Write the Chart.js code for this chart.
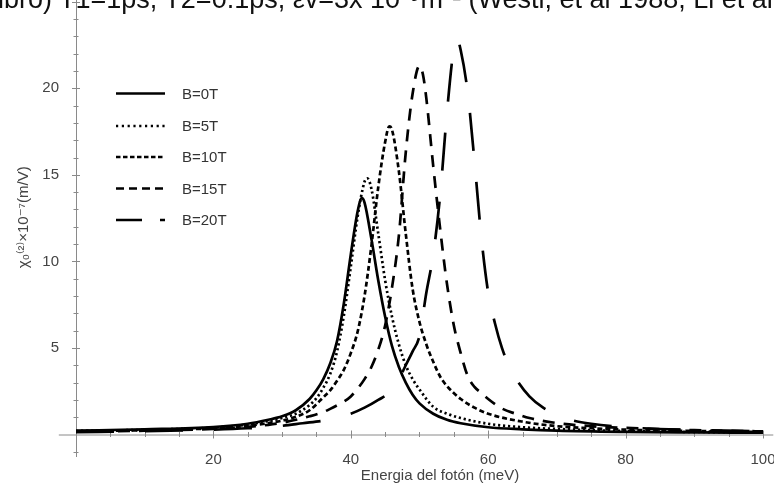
<!DOCTYPE html>
<html>
<head>
<meta charset="utf-8">
<script src="https://cdn.jsdelivr.net/npm/chart.js@4/dist/chart.umd.min.js"></script>
<style>
html,body{margin:0;padding:0;background:#fff;overflow:hidden;width:774px;height:485px;}
#wrap{position:relative;width:800px;height:485px;}
canvas{position:absolute;left:0;top:0;}
#cap{position:absolute;left:-2px;top:-13px;font:27px "Liberation Sans",Arial,sans-serif;color:#111;white-space:nowrap;line-height:24px;}
</style>
</head>
<body>
<div id="wrap">
<canvas id="c" width="800" height="485"></canvas>
<div id="cap">ibro) T1=1ps, T2=0.1ps, εv=3x 10⁻⁹m⁻¹ (Westl, et al 1988, Li et al</div>
</div>
<script>
// ---- data ----
const seriesLabels = ['B=0T', 'B=5T', 'B=10T', 'B=15T', 'B=20T'];
const xTickLabels = [20, 40, 60, 80, 100];
const yTickLabels = [5, 10, 15, 20];

const eB0  = [0,10,20,25,28,30,32,34,35,36,37,38,39,40,41,41.6,42,43,44,45,46,47,48,49,50,52,54,56,60,65,70,80,90,100];
const chiB0 = [0.22,0.3,0.43,0.62,0.85,1.05,1.4,2.05,2.55,3.2,4.1,5.4,7.6,10.4,12.9,13.65,13.4,11.3,8.9,6.8,5.1,3.9,3.0,2.3,1.8,1.2,0.85,0.65,0.42,0.3,0.22,0.15,0.12,0.1];

const eB5  = [0,10,20,25,28,30,32,34,35,36,37,38,39,40,41,42,42.4,43,44,45,46,47,48,49,50,52,54,56,60,65,70,80,90,100];
const chiB5 = [0.2,0.27,0.4,0.58,0.78,0.95,1.2,1.7,2.1,2.7,3.5,4.8,6.9,9.7,12.6,14.6,14.8,14.2,11.6,8.9,6.8,5.2,4.0,3.2,2.6,1.6,1.2,0.95,0.62,0.42,0.32,0.2,0.15,0.12];

const eB10  = [0,10,20,25,28,30,32,34,36,37,38,39,40,41,42,43,44,45,45.6,46,47,48,49,50,51,52,53,54,56,58,60,65,70,75,80,90,100];
const chiB10 = [0.18,0.25,0.36,0.5,0.66,0.8,1.02,1.4,2.15,2.55,3.1,3.75,4.7,5.95,8.0,10.9,14.3,16.9,17.8,17.6,15.2,11.6,8.4,6.5,5.2,4.2,3.35,2.8,2.05,1.55,1.2,0.74,0.48,0.36,0.28,0.2,0.15];

const eB15  = [0,10,20,25,28,30,32,34,36,37,38,39,40,41,42,43,44,45,46,47,48,49,50,50.5,51,52,53,54,55,56,57,58,59,60,62,64,66,70,75,80,90,100];
const chiB15 = [0.16,0.22,0.32,0.44,0.56,0.68,0.85,1.05,1.3,1.48,1.68,1.9,2.2,2.65,3.2,3.9,4.9,6.3,8.5,11.5,16.3,19.7,21.3,20.8,19.4,15.5,11.9,8.7,6.3,4.7,3.4,2.75,2.4,2.05,1.5,1.2,0.95,0.66,0.48,0.38,0.25,0.18];

const eB20  = [0,10,20,25,30,33,36,38,40,42,44,46,47,48,49,50,51,52,53,54,55,55.5,56,57,58,59,60,61,62,63,64,66,68,70,72,75,80,90,100];
const chiB20 = [0.14,0.19,0.28,0.36,0.5,0.65,0.8,0.98,1.2,1.55,2.0,2.55,3.2,4.0,4.8,5.7,8.2,10.4,13.8,18.6,22.3,22.8,22.2,19.8,15.8,11.4,8.2,6.4,5.0,4.0,3.25,2.2,1.55,1.15,0.85,0.62,0.42,0.26,0.18];

const xTitle = 'Energia del fotón (meV)';
const yTitle = 'χ₀⁽²⁾×10⁻⁷(m/V)';

// ---- styling ----
const FONT = '"Liberation Sans", Arial, "DejaVu Sans", sans-serif';
const plotDashes   = [[], [2.2, 2.8], [5, 3], [12, 9], [38, 31]];
const legendDashes = [[], [2.2, 3.6], [4.5, 2.5], [8, 5], [26, 18]];
const LW = 2.7;

const pts = (xs, ys) => xs.map((v, i) => ({x: v, y: ys[i]}));
const allData = [pts(eB0, chiB0), pts(eB5, chiB5), pts(eB10, chiB10), pts(eB15, chiB15), pts(eB20, chiB20)];

const datasets = allData.map((d, i) => ({
  label: seriesLabels[i],
  data: d,
  borderColor: '#000',
  borderWidth: LW,
  borderDash: plotDashes[i],
  pointRadius: 0,
  fill: false,
  cubicInterpolationMode: 'monotone'
}));

const decor = {
  id: 'decor',
  beforeDatasetsDraw(chart) {
    const {ctx, scales: {x, y}, chartArea} = chart;
    const x0 = x.getPixelForValue(0), y0 = y.getPixelForValue(0);
    ctx.save();
    ctx.strokeStyle = '#8a8a8a';
    ctx.lineWidth = 1;
    ctx.beginPath();
    ctx.moveTo(x0 + 0.5, y.getPixelForValue(-1.3));
    ctx.lineTo(x0 + 0.5, chartArea.top);
    ctx.moveTo(x.getPixelForValue(-2.5), y0 + 0.5);
    ctx.lineTo(chartArea.right, y0 + 0.5);
    for (let v = -1; v <= 25; v++) {
      if (v === 0) continue;
      const p = Math.round(y.getPixelForValue(v)) + 0.5;
      const L = v % 5 === 0 ? 4 : 2.5;
      ctx.moveTo(x0 - L, p); ctx.lineTo(x0 + L, p);
    }
    for (let v = 5; v <= 100; v += 5) {
      const p = Math.round(x.getPixelForValue(v)) + 0.5;
      const L = v % 20 === 0 ? 4 : 2.5;
      ctx.moveTo(p, y0 - L); ctx.lineTo(p, y0 + L);
    }
    ctx.stroke();
    ctx.restore();
  },
  afterDraw(chart) {
    const {ctx} = chart;
    ctx.save();
    // legend
    const rows = [93.5, 126, 157, 188.5, 220];
    chart.data.datasets.forEach((ds, i) => {
      ctx.strokeStyle = '#000';
      ctx.lineWidth = LW;
      ctx.setLineDash(legendDashes[i]);
      ctx.beginPath();
      ctx.moveTo(116, rows[i]);
      ctx.lineTo(165, rows[i]);
      ctx.stroke();
      ctx.setLineDash([]);
      ctx.fillStyle = '#333';
      ctx.font = '15px ' + FONT;
      ctx.textBaseline = 'middle';
      ctx.textAlign = 'left';
      ctx.fillText(ds.label, 182, rows[i] + 1);
    });
    // x-axis title
    ctx.fillStyle = '#444';
    ctx.font = '15px ' + FONT;
    ctx.textAlign = 'center';
    ctx.textBaseline = 'middle';
    ctx.fillText(xTitle, 440, 476);
    ctx.restore();
  }
};

new Chart(document.getElementById('c'), {
  type: 'line',
  data: {datasets},
  options: {
    responsive: false,
    animation: false,
    devicePixelRatio: 1,
    layout: {padding: {left: 0, top: 0, right: 26.7, bottom: 0}},
    plugins: {legend: {display: false}, tooltip: {enabled: false}},
    scales: {
      x: {
        type: 'linear', min: 0, max: 101.5,
        afterFit(s) { s.height = 50.5; s.paddingLeft = 0; s.paddingRight = 0; },
        grid: {display: false}, border: {display: false},
        ticks: {
          stepSize: 20, includeBounds: false, autoSkip: false, maxRotation: 0, padding: 8,
          color: '#444', font: {family: FONT, size: 15},
          callback: v => xTickLabels.includes(v) ? String(v) : ''
        }
      },
      y: {
        type: 'linear', min: 0, max: 25.1,
        afterFit(s) { s.width = 76; s.paddingTop = 0; s.paddingBottom = 0; },
        grid: {display: false}, border: {display: false},
        ticks: {
          stepSize: 5, includeBounds: false, padding: 9,
          color: '#444', font: {family: FONT, size: 15},
          callback: v => yTickLabels.includes(v) ? String(v) : ''
        },
        title: {display: true, text: yTitle, color: '#444', font: {family: FONT, size: 15}, padding: {top: 15, bottom: 0}}
      }
    }
  },
  plugins: [decor]
});
</script>
</body>
</html>
